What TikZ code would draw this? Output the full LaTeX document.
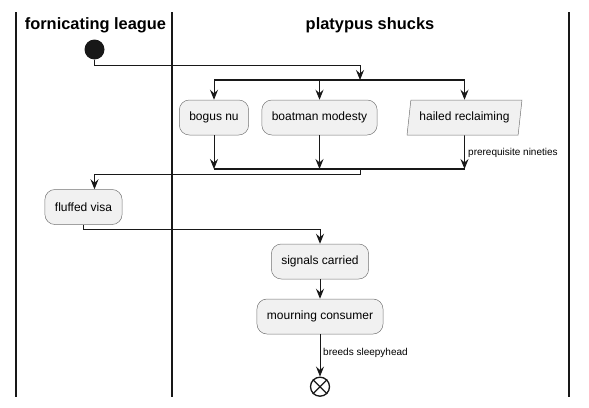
\documentclass[tikz,border=0pt]{standalone}
\usepackage{fontspec}
\setmainfont{Liberation Sans}
\usepackage{tikz}
\usetikzlibrary{positioning, arrows.meta, shapes.geometric}

\definecolor{actfill}{HTML}{F1F1F1}
\definecolor{actline}{HTML}{181818}

\tikzset{
	lane/.style={line width=1.4pt, actline},
	lanetitle/.style={font=\bfseries\fontsize{16.4}{20}\selectfont, inner sep=0pt},
	act/.style={draw=actline!60, line width=0.5pt, fill=actfill, rounded corners=10pt,
		minimum height=35pt, inner xsep=10pt, font=\fontsize{12}{14}\selectfont},
	io/.style={trapezium, trapezium left angle=79, trapezium right angle=101,
		trapezium stretches=true, draw=actline!60, line width=0.5pt, fill=actfill,
		minimum height=35pt, minimum width=115pt, font=\fontsize{12}{14}\selectfont},
	flow/.style={-{Stealth[length=10pt, width=8pt, inset=3.5pt]}, line width=0.9pt, actline},
	bar/.style={line width=1.6pt, actline},
	lbl/.style={font=\fontsize{10}{12}\selectfont, inner sep=1pt, anchor=west},
}

\begin{document}
\begin{tikzpicture}[x=1pt, y=-1pt]
	\useasboundingbox (0,0) rectangle (589,407);
	
	% 泳道
	\foreach \x in {16,172,569} \draw[lane] (\x,12) -- (\x,397);
	\node[lanetitle] (titleA) at (95.5,25) {fornicating league};
	\node[lanetitle] (titleB) at (370,25) {platypus shucks};
	
	% 开始
	\node[circle, fill=actline, minimum size=20pt, inner sep=0pt] (start) at (94.5,49.5) {};
	
	% 分叉
	\coordinate (fork) at (360,80);
	\coordinate (join) at (360,169);
	\node[act] (bogus) at (214,117.5) {bogus nu};
	\node[act] (boat) at (319.5,117.5) {boatman modesty};
	\node[io] (hailed) at (464.5,117.5) {hailed reclaiming};
	\draw[bar] (fork -| bogus) -- (fork -| hailed);
	\draw[bar] (join -| bogus) -- (join -| hailed);
	
	\draw[flow] (start.south) -- ++(0,6) -| (fork);
	\foreach \n in {bogus,boat,hailed} {
		\draw[flow] (fork -| \n) -- (\n);
		\draw[flow] (\n) -- (join -| \n);
	}
	\node[lbl] (prereq) at (467,153) {prerequisite nineties};
	
	% 左泳道
	\node[act] (fluffed) at (83.5,207) {fluffed visa};
	\draw[flow] (join) -- ++(0,5) -| (start |- fluffed.north);
	
	% 右泳道
	\node[act] (signals) at (320,261.5) {signals carried};
	\node[act] (mourning) at (320,316.5) {mourning consumer};
	\draw[flow] (fluffed.south) -- ++(0,5) -| (signals);
	\draw[flow] (signals) -- (mourning);
	
	% 结束
	\node[circle, draw=actline, line width=1.3pt, fill=white, minimum size=19pt, inner sep=0pt] (stop) at (320,386.7) {};
	\draw[line width=1.3pt, actline] (stop.north west) -- (stop.south east);
	\draw[line width=1.3pt, actline] (stop.north east) -- (stop.south west);
	\draw[flow] (mourning) -- (stop);
	\node[lbl] (breeds) at (322,353) {breeds sleepyhead};
\end{tikzpicture}
\end{document}
